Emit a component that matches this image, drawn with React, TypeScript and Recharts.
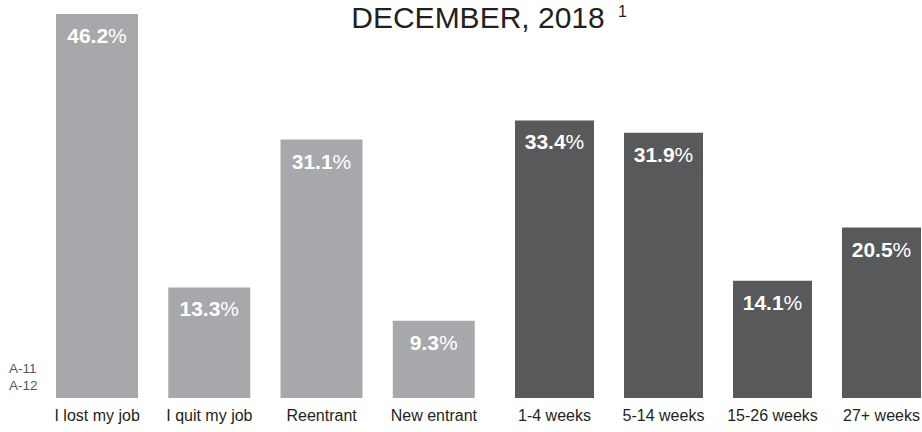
import { BarChart, Bar, XAxis, YAxis, Cell, LabelList } from 'recharts';

// left panel: reason for unemployment, right panel: duration
const reasonCats = ['I lost my job', 'I quit my job', 'Reentrant', 'New entrant'];
const reasonShares = [46.2, 13.3, 31.1, 9.3];
const durationCats = ['1-4 weeks', '5-14 weeks', '15-26 weeks', '27+ weeks'];
const durationShares = [33.4, 31.9, 14.1, 20.5];
const sideNotes = ['A-11', 'A-12'];

const font = '"Liberation Sans", Arial, sans-serif';
const yMax = Math.max(...reasonShares, ...durationShares);

const reasonData = reasonCats.map((name, i) => ({ name, value: reasonShares[i] }));
const durationData = durationCats.map((name, i) => ({ name, value: durationShares[i] }));

//@ts-ignore
const PctLabel = (props) => {
  const { x, y, width, value } = props;
  return (
    <text x={x + width / 2} y={y + 29} textAnchor="middle" fill="#fff" fontFamily={font} fontSize={21} fontWeight="bold">
      {value.toFixed(1)}
      <tspan fontWeight="normal">%</tspan>
    </text>
  );
};

//@ts-ignore
const Panel = ({ data, width, left, barSize, color, marginLeft }) => (
  <div style={{ position: 'absolute', left, top: 0 }}>
    <BarChart width={width} height={432} data={data} margin={{ top: 14, right: 0, left: marginLeft, bottom: 0 }}>
      <XAxis
        dataKey="name"
        height={34}
        axisLine={false}
        tickLine={false}
        interval={0}
        tick={{ fontFamily: font, fontSize: 16, fill: '#231f20' }}
        tickMargin={6}
      />
      <YAxis hide domain={[0, yMax]} />
      <Bar dataKey="value" barSize={barSize} fill={color} isAnimationActive={false}>
        {data.map((d: any) => (
          <Cell key={d.name} fill={color} />
        ))}
        <LabelList dataKey="value" content={PctLabel} />
      </Bar>
    </BarChart>
  </div>
);

const App = () => {
  return (
    <div style={{ position: 'absolute', left: 0, top: 0, width: 922, height: 432, overflow: 'hidden', background: '#fff' }}>
      <Panel data={reasonData} width={490} left={0} marginLeft={41} barSize={82} color="#a7a8ab" />
      <Panel data={durationData} width={436} left={500} marginLeft={0} barSize={79} color="#58595b" />
      <svg width={922} height={432} style={{ position: 'absolute', left: 0, top: 0, pointerEvents: 'none' }}>
        <text x={478} y={28} textAnchor="middle" fontFamily={font} fontSize={30} fill="#231f20">
          DECEMBER, 2018
        </text>
        <text x={618} y={17} fontFamily={font} fontSize={16} fill="#231f20">1</text>
        {sideNotes.map((t, i) => (
          <text key={t} x={9} y={373 + i * 17} fontFamily={font} fontSize={13.5} fill="#58595b">{t}</text>
        ))}
      </svg>
    </div>
  );
};

export default App;
